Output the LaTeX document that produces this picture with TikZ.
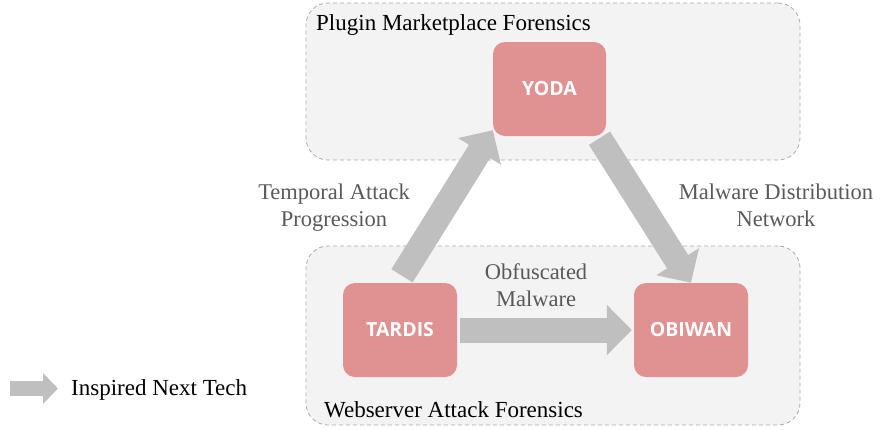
\documentclass[tikz,border=0pt]{standalone}
\usepackage{fontspec}
\setmainfont{Liberation Serif}
\newfontfamily\techfont{Open Sans}
\usepackage{tikz}
\usetikzlibrary{arrows.meta, calc}
\usepackage{xcolor}
\definecolor{tech-red}{RGB}{224,145,145}
\definecolor{arrow-gray}{RGB}{191,191,191}
\definecolor{group-fill}{RGB}{243,243,243}
\definecolor{group-line}{RGB}{170,170,170}
\definecolor{label-gray}{RGB}{89,89,89}

\begin{document}
\begin{tikzpicture}[x=1pt, y=-1pt,
	tech/.style={fill=tech-red, rounded corners=12pt, minimum width=114pt, minimum height=94pt, inner sep=0pt, text=white, font=\techfont\bfseries\fontsize{19.5}{23}\selectfont},
	group/.style={fill=group-fill, draw=group-line, dash pattern=on 4pt off 3pt, line width=0.8pt, rounded corners=22pt, inner sep=0pt},
	grouplabel/.style={anchor=base west, inner sep=0pt, font=\fontsize{23}{27}\selectfont},
	flowlabel/.style={align=center, inner sep=0pt, text=label-gray, font=\fontsize{22.5}{27}\selectfont},
	inspires/.style={arrow-gray, line width=25pt, -{Triangle[width=49pt, length=25pt]}}]
					\useasboundingbox (0,0) rectangle (881,429);
					
					\node[group, minimum width=494pt, minimum height=157pt] at (553,81.5) (market) {};
					\node[group, minimum width=494pt, minimum height=179pt] at (553,335.5) (webserver) {};
					\node[grouplabel] at (316,30) (marketlabel) {Plugin Marketplace Forensics};
					\node[grouplabel] at (324,417) (webserverlabel) {Webserver Attack Forensics};
					
					\node[tech, minimum width=113pt] at (549.5,89) (yoda) {YODA};
					\node[tech] at (400,330) (tardis) {TARDIS};
					\node[tech] at (691,330) (obiwan) {OBIWAN};
					
					\draw[inspires] ($(tardis.east)+(3,0)$) -- ($(obiwan.west)+(-2,0)$);
					\draw[inspires] ($(tardis.north)+(2,-7)$) -- ($(yoda.south west)+(0,-6)$);
					\draw[inspires] ($(yoda.south)+(50,2)$) -- (obiwan.north);
					
					\node[flowlabel] at (334,208) (temporal) {Temporal Attack\\Progression};
					\node[flowlabel] at (776,205) (distribution) {Malware Distribution\\Network};
					\node[flowlabel] at (536,285) (obfuscated) {Obfuscated\\Malware};
					
					\coordinate (legfrom) at (10,388.5);
					\coordinate (legto) at (58,388.5);
					\draw[inspires, line width=15pt, -{Triangle[width=30pt, length=15pt]}] (legfrom) -- (legto);
					\node[grouplabel] at (71,395) (legend) {Inspired Next Tech};
				\end{tikzpicture}
\end{document}
